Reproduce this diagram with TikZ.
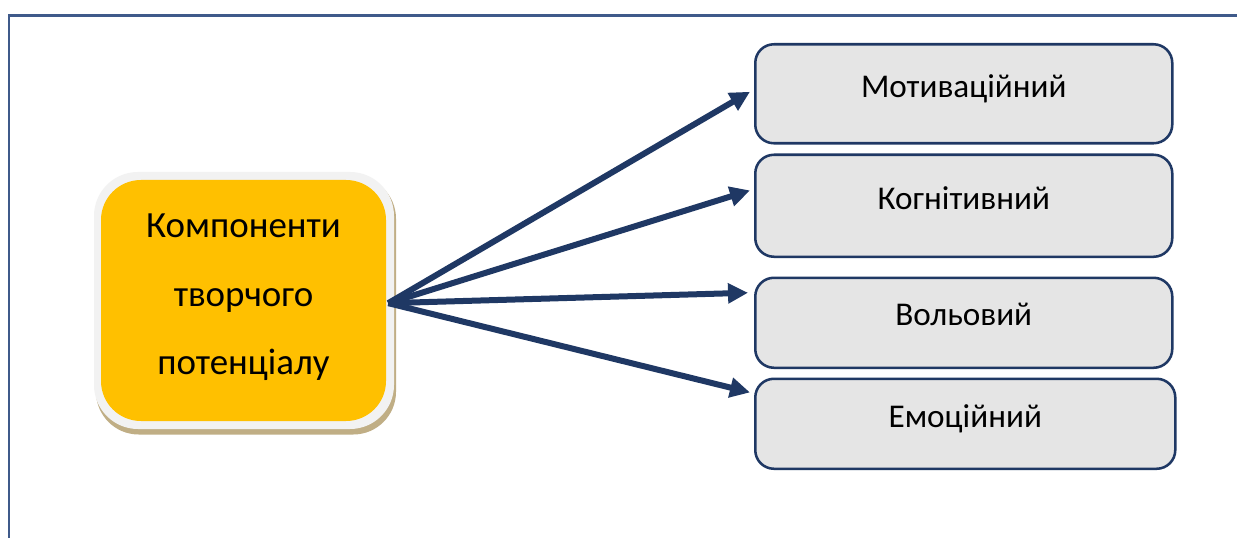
\documentclass[tikz,border=0pt]{standalone}
\usepackage{fontspec}
\setmainfont{Carlito}
\usetikzlibrary{arrows.meta}
\definecolor{navy}{HTML}{1F3864}
\definecolor{framec}{HTML}{3F5A8A}
\definecolor{boxgray}{HTML}{E5E5E5}
\definecolor{amber}{HTML}{FFC000}
\definecolor{halo}{HTML}{F2F2F2}
\definecolor{shadowtan}{HTML}{C0AE85}
\newcommand{\lift}[1]{\raisebox{12pt}{#1}}
\tikzset{
  x=0.75pt, y=-0.75pt,
  compbox/.style={draw=navy, line width=1.9pt, fill=boxgray, rounded corners=14pt, inner sep=0pt,
    font=\fontsize{24.9pt}{29pt}\selectfont, text=black, anchor=north west},
  mainbox/.style={fill=amber, rounded corners=30pt, inner sep=0pt, minimum width=213.75pt, minimum height=180.75pt,
    align=center, text=black, font=\fontsize{27.7pt}{51.4pt}\selectfont},
  flow/.style={draw=navy, line width=4.5pt, -{Triangle[length=15pt,width=14.5pt]}}
}
\begin{document}
\begin{tikzpicture}
\useasboundingbox (0,0) rectangle (1237,538);
\fill[white] (0,0) rectangle (1237,538);
% open frame
\draw[framec, line width=1.7pt] (9,538) -- (9,15.5) -- (1237,15.5);
% main box layers
\fill[shadowtan, rounded corners=32pt] (96,176) rectangle (396,434.5);
\fill[halo, rounded corners=33pt] (94,172) rectangle (394,429);
\node[mainbox] (main) at (243.5,300.5) {Компоненти\\творчого\\потенціалу\rule[-9pt]{0pt}{0pt}};
% component boxes
\node[compbox, minimum width=312.75pt, minimum height=74.25pt] (mot) at (754,43) {\lift{Мотиваційний}};
\node[compbox, minimum width=312.75pt, minimum height=76.5pt] (kog) at (754,153.5) {\lift{Когнітивний}};
\node[compbox, minimum width=312.75pt, minimum height=67.5pt] (vol) at (754,276.5) {\lift{Вольовий}};
\node[compbox, minimum width=315pt, minimum height=67.5pt] (emo) at (754,377.5) {\lift{Емоційний}};
% connectors
\coordinate (src) at ([xshift=1.5pt,yshift=-2pt]main.east);
\draw[flow] (src) -- ([xshift=-3pt,yshift=1.5pt]mot.west);
\draw[flow] (src) -- ([xshift=-3pt,yshift=11.5pt]kog.west);
\draw[flow] (src) -- ([xshift=-4.5pt,yshift=22.5pt]vol.west);
\draw[flow] (src) -- ([xshift=-3pt,yshift=23.5pt]emo.west);
\end{tikzpicture}
\end{document}
